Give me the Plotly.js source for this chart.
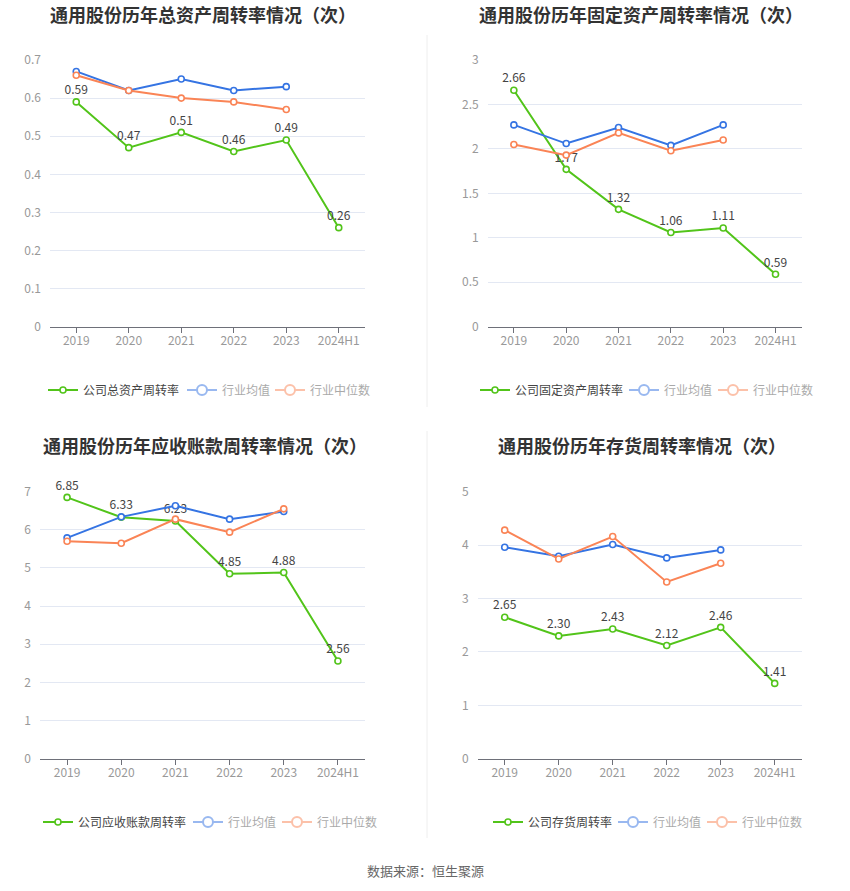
<!DOCTYPE html>
<html>
<head>
<meta charset="utf-8">
<script src="https://cdn.plot.ly/plotly-3.0.1.min.js"></script>
<style>html,body{margin:0;padding:0;background:#fff;}#chart{width:850px;height:891px;}</style>
</head>
<body>
<div id="chart"></div>
<script>
const categories = ['2019', '2020', '2021', '2022', '2023', '2024H1'];
const catsIndustry = ['2019', '2020', '2021', '2022', '2023'];

const titles = [
  '通用股份历年总资产周转率情况（次）',
  '通用股份历年固定资产周转率情况（次）',
  '通用股份历年应收账款周转率情况（次）',
  '通用股份历年存货周转率情况（次）'
];
const companyNames = ['公司总资产周转率', '公司固定资产周转率', '公司应收账款周转率', '公司存货周转率'];
const avgName = '行业均值';
const medName = '行业中位数';

const totalAssetCompany = [0.59, 0.47, 0.51, 0.46, 0.49, 0.26];
const totalAssetAvg = [0.67, 0.62, 0.65, 0.62, 0.63];
const totalAssetMedian = [0.66, 0.62, 0.60, 0.59, 0.57];

const fixedAssetCompany = [2.66, 1.77, 1.32, 1.06, 1.11, 0.59];
const fixedAssetAvg = [2.27, 2.06, 2.24, 2.04, 2.27];
const fixedAssetMedian = [2.05, 1.93, 2.18, 1.98, 2.10];

const receivableCompany = [6.85, 6.33, 6.23, 4.85, 4.88, 2.56];
const receivableAvg = [5.79, 6.34, 6.63, 6.28, 6.48];
const receivableMedian = [5.70, 5.65, 6.28, 5.94, 6.55];

const inventoryCompany = [2.65, 2.30, 2.43, 2.12, 2.46, 1.41];
const inventoryAvg = [3.96, 3.79, 4.01, 3.76, 3.91];
const inventoryMedian = [4.28, 3.74, 4.16, 3.31, 3.66];

const yRanges = [[0, 0.7], [0, 3], [0, 7], [0, 5]];
const yDtick = [0.1, 0.5, 1, 1];

const companySets = [totalAssetCompany, fixedAssetCompany, receivableCompany, inventoryCompany];
const avgSets = [totalAssetAvg, fixedAssetAvg, receivableAvg, inventoryAvg];
const medSets = [totalAssetMedian, fixedAssetMedian, receivableMedian, inventoryMedian];

const GREEN = '#52c41a';
const BLUE = '#3574e3';
const ORANGE = '#fa8456';
const FONT = '"Noto Sans CJK SC", "Noto Sans", sans-serif';

const W = 850, H = 891;
// pixel boxes: [left, right, top, bottom]
const boxes = [
  [50, 365, 60, 326.7],
  [487.7, 801.7, 60, 326.7],
  [40, 365, 491.7, 758.7],
  [477.7, 801.7, 491.7, 758.7]
];
// legend icon starts for [company, avg, median], and legend row y
const legendX = [[48, 187, 275], [480, 629, 718], [43, 193, 282], [493, 618, 707]];
const legendY = [390, 390, 822, 822];
const titlePos = [[203, 14], [641, 14], [205, 445], [642, 445]];

const traces = [];
const layout = {
  width: W, height: H,
  margin: {l: 0, r: 0, t: 0, b: 0},
  paper_bgcolor: '#fff', plot_bgcolor: '#fff',
  font: {family: FONT, size: 12, color: '#666'},
  annotations: [], shapes: []
};

let legendCount = 0;
function newLegend(xpx, ypx, textColor) {
  legendCount++;
  const key = legendCount === 1 ? 'legend' : 'legend' + legendCount;
  layout[key] = {
    orientation: 'h', x: (xpx - 5) / W, y: (H - ypx) / H,
    xanchor: 'left', yanchor: 'middle', bgcolor: 'rgba(0,0,0,0)',
    font: {family: FONT, size: 12, color: textColor}, itemwidth: 30
  };
  return key;
}

for (let i = 0; i < 4; i++) {
  const n = i + 1;
  const xa = n === 1 ? 'x' : 'x' + n;
  const ya = n === 1 ? 'y' : 'y' + n;
  const mk = (c, s) => ({symbol: 'circle', size: s, color: '#fff', line: {color: c, width: 1.6}});
  const lgC = newLegend(legendX[i][0], legendY[i], '#444');
  const lgA = newLegend(legendX[i][1], legendY[i], '#555');
  const lgM = newLegend(legendX[i][2], legendY[i], '#555');
  traces.push({
    x: categories, y: companySets[i], xaxis: xa, yaxis: ya, legend: lgC,
    name: companyNames[i], type: 'scatter', mode: 'lines+markers+text',
    line: {color: GREEN, width: 2}, marker: mk(GREEN, 6),
    text: companySets[i].map(v => v.toFixed(2)),
    textposition: 'top center', textfont: {family: FONT, size: 12, color: '#444'},
    cliponaxis: false, hoverinfo: 'skip'
  });
  traces.push({
    x: catsIndustry, y: avgSets[i], xaxis: xa, yaxis: ya, showlegend: false,
    name: avgName, type: 'scatter', mode: 'lines+markers',
    line: {color: BLUE, width: 2}, marker: mk(BLUE, 6), cliponaxis: false, hoverinfo: 'skip'
  });
  traces.push({
    x: catsIndustry, y: medSets[i], xaxis: xa, yaxis: ya, showlegend: false,
    name: medName, type: 'scatter', mode: 'lines+markers',
    line: {color: ORANGE, width: 2}, marker: mk(ORANGE, 6), cliponaxis: false, hoverinfo: 'skip'
  });
  // legend entries of the industry series (shown faded, as in the reference)
  traces.push({
    x: catsIndustry, y: avgSets[i], xaxis: xa, yaxis: ya, legend: lgA, visible: 'legendonly',
    name: avgName, type: 'scatter', mode: 'lines+markers',
    line: {color: BLUE, width: 2}, marker: {symbol: 'circle', size: 10, color: '#fff', line: {color: BLUE, width: 2}}
  });
  traces.push({
    x: catsIndustry, y: medSets[i], xaxis: xa, yaxis: ya, legend: lgM, visible: 'legendonly',
    name: medName, type: 'scatter', mode: 'lines+markers',
    line: {color: ORANGE, width: 2}, marker: {symbol: 'circle', size: 10, color: '#fff', line: {color: ORANGE, width: 2}}
  });
  const b = boxes[i];
  const xKey = n === 1 ? 'xaxis' : 'xaxis' + n;
  const yKey = n === 1 ? 'yaxis' : 'yaxis' + n;
  layout[xKey] = {
    domain: [b[0] / W, b[1] / W], anchor: ya, type: 'category',
    categoryorder: 'array', categoryarray: categories, range: [-0.5, 5.5],
    showgrid: false, showline: true, linecolor: '#6e7079', linewidth: 1,
    ticks: 'outside', ticklen: 5, tickcolor: '#6e7079', ticklabelstandoff: -2,
    tickfont: {family: FONT, size: 12, color: '#999'}, fixedrange: true, zeroline: false
  };
  layout[yKey] = {
    domain: [(H - b[3]) / H, (H - b[2]) / H], anchor: xa,
    range: yRanges[i], dtick: yDtick[i], tick0: 0,
    showgrid: true, gridcolor: '#e3e8f3', gridwidth: 1, zeroline: false,
    showline: false, ticks: '', ticklabelstandoff: 8,
    tickfont: {family: FONT, size: 12, color: '#999'}, fixedrange: true
  };
  layout.annotations.push({
    text: '<b>' + titles[i] + '</b>', xref: 'paper', yref: 'paper',
    x: titlePos[i][0] / W, y: (H - titlePos[i][1]) / H, xanchor: 'center', yanchor: 'middle',
    showarrow: false, font: {family: FONT, size: 18, color: '#333'}
  });
}

layout.annotations.push({
  text: '数据来源：恒生聚源', xref: 'paper', yref: 'paper',
  x: 425 / W, y: (H - 870) / H, xanchor: 'center', yanchor: 'middle',
  showarrow: false, font: {family: FONT, size: 13, color: '#666'}
});

layout.shapes.push({type: 'line', xref: 'paper', yref: 'paper',
  x0: 427 / W, x1: 427 / W, y0: (H - 407) / H, y1: (H - 35) / H, line: {color: '#eeeeee', width: 1}});
layout.shapes.push({type: 'line', xref: 'paper', yref: 'paper',
  x0: 427 / W, x1: 427 / W, y0: (H - 838) / H, y1: (H - 431) / H, line: {color: '#eeeeee', width: 1}});

Plotly.newPlot('chart', traces, layout, {displayModeBar: false, staticPlot: true});
</script>
</body>
</html>
